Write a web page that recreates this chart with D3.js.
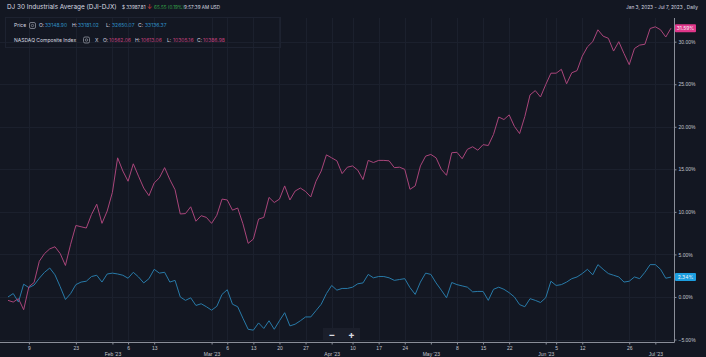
<!DOCTYPE html>
<html>
<head>
  <title>DJI vs NASDAQ</title>
  <script src="https://d3js.org/d3.v7.min.js"></script>
  <style>
    body { margin: 0; background: #131722; }
    svg { display: block; font-family: "Inter", "DejaVu Sans", sans-serif; }
  </style>
</head>
<body>
<div id="chart"></div>
<script>
// Trading calendar Jan 3 - Jul 7, 2023 (weekdays minus exchange holidays)
const firstDay = "2023-01-03";
const lastDay = "2023-07-07";
const holidays = ["2023-01-16", "2023-02-20", "2023-04-07", "2023-05-29", "2023-06-19", "2023-07-04"];

// % change since Jan 3, one value per trading day
const djiValues = [
  0.0, 0.4, -0.6, 1.5, 1.1, 1.4, 2.2, 2.9, 3.4, 2.6,
  1.2, -0.3, 0.4, 1.45, 1.75, 1.85, 2.4, 2.55, 1.75, 2.7,
  2.8, 2.7, 2.55, 2.2, 2.9, 2.35, 1.65, 2.15, 3.25, 2.8,
  2.9, 1.75, 1.95, 0.0, -0.4, -0.1, -1.0, -0.8, -1.15, -1.55,
  -1.1, 0.3, 0.85, -0.85, -1.15, -2.5, -3.8, -3.9, -3.05, -3.7,
  -2.8, -3.8, -2.8, -1.85, -3.4, -3.2, -2.8, -2.35, -2.35, -1.6,
  -0.85, 0.4, 1.35, 0.8, 1.0, 1.0, 1.15, 1.55, 1.65, 2.65,
  2.25, 2.4, 2.4, 2.25, 1.95, 2.05, 2.15, 1.1, 0.3, 1.75,
  2.8, 2.65, 1.65, 0.8, -0.1, 1.7, 1.45, 1.3, 1.15, 0.6,
  0.65, 0.65, -0.4, 0.9, 1.15, 0.9, 0.5, 0.0, -0.9, -1.15,
  -0.2, -0.4, -0.65, -0.1, 1.85, 1.35, 1.45, 1.75, 2.15, 2.35,
  2.75, 3.25, 2.6, 3.8, 3.25, 2.75, 2.55, 2.35, 1.75, 1.85,
  2.35, 2.15, 2.9, 3.8, 3.8, 3.25, 2.2, 2.34
];
const nasdaqValues = [
  -0.4, -0.6, -0.2, -1.5, 1.2, 1.7, 4.2, 5.1, 5.65, 5.9,
  5.1, 3.7, 6.2, 8.4, 8.25, 8.1, 9.7, 10.9, 8.65, 10.1,
  12.3, 16.35, 14.8, 13.6, 15.65, 14.2, 12.8, 11.9, 13.4, 14.0,
  15.2, 13.8, 12.6, 9.75, 9.8, 10.6, 8.9, 9.55, 9.35, 8.65,
  9.6, 11.5, 11.4, 10.2, 10.45, 8.6, 6.3, 6.8, 9.15, 9.35,
  11.7, 11.1, 11.5, 13.05, 11.4, 12.45, 12.8, 12.4, 11.75, 13.6,
  14.8, 16.7, 16.35, 16.0, 14.5, 15.25, 15.4, 14.9, 13.8, 16.05,
  15.8, 16.05, 16.05, 16.0, 15.2, 15.25, 15.0, 12.65, 13.05, 15.4,
  16.55, 16.75, 16.35, 15.0, 14.3, 16.95, 17.0, 16.25, 17.35, 17.65,
  17.25, 17.9, 17.8, 19.1, 21.15, 20.85, 21.4, 20.05, 19.2, 21.2,
  23.75, 24.25, 23.5, 24.95, 26.3, 26.3, 26.75, 25.05, 26.35, 26.6,
  28.3, 29.4, 30.0, 31.4, 30.65, 30.4, 28.9, 30.0, 28.6, 27.3,
  29.2, 29.6, 29.7, 31.55, 31.75, 31.4, 30.55, 31.59
];

const yTicks = [-5, 0, 5, 10, 15, 20, 25, 30];
const dayTicks = ["2023-01-09", "2023-01-23", "2023-02-06", "2023-02-13", "2023-03-06", "2023-03-13",
  "2023-03-20", "2023-03-27", "2023-04-10", "2023-04-17", "2023-04-24", "2023-05-08", "2023-05-15",
  "2023-05-22", "2023-06-05", "2023-06-12", "2023-06-26"];
const monthTicks = ["2023-02-01", "2023-03-01", "2023-04-03", "2023-05-01", "2023-06-01", "2023-07-03"];
const monthLabels = ["Feb '23", "Mar '23", "Apr '23", "May '23", "Jun '23", "Jul '23"];

const width = 706, height = 357;
const fmtDay = d3.utcFormat("%Y-%m-%d");

const dates = d3.utcDay.range(new Date(firstDay), d3.utcDay.offset(new Date(lastDay), 1))
  .filter(d => d.getUTCDay() !== 0 && d.getUTCDay() !== 6)
  .map(fmtDay)
  .filter(d => !holidays.includes(d));

const x = d3.scalePoint().domain(dates).range([8, 671]);
const y = d3.scaleLinear().domain([-5, 30]).range([339.5, 41.7]);

const svg = d3.select("#chart").append("svg")
  .attr("width", width).attr("height", height);

svg.append("rect").attr("width", width).attr("height", height).attr("fill", "#131722");

// grid
const grid = svg.append("g").attr("stroke", "#1b202d").attr("stroke-width", 1);
grid.selectAll(".vg").data(dayTicks.concat(monthTicks)).join("line")
  .attr("x1", d => Math.round(x(d)) + 0.5).attr("x2", d => Math.round(x(d)) + 0.5)
  .attr("y1", 18).attr("y2", 342);
grid.selectAll(".hg").data(yTicks).join("line")
  .attr("x1", 0).attr("x2", 674)
  .attr("y1", d => Math.round(y(d)) + 0.5).attr("y2", d => Math.round(y(d)) + 0.5);

// lines
const line = vals => d3.line().x((d, i) => x(dates[i])).y(d => y(d))(vals);
svg.append("path").attr("d", line(djiValues))
  .attr("fill", "none").attr("stroke", "#287aa8").attr("stroke-width", 1);
svg.append("path").attr("d", line(nasdaqValues))
  .attr("fill", "none").attr("stroke", "#a9457a").attr("stroke-width", 1);

// axes
const axisColor = "#8a8e99";
svg.append("line").attr("x1", 0).attr("x2", 674.5).attr("y1", 342.5).attr("y2", 342.5)
  .attr("stroke", axisColor).attr("stroke-width", 1);
svg.append("line").attr("x1", 674.5).attr("x2", 674.5).attr("y1", 18).attr("y2", 342.5)
  .attr("stroke", axisColor).attr("stroke-width", 1);

const yAxis = svg.append("g").attr("transform", "translate(674.5,0)")
  .call(d3.axisRight(y).tickValues(yTicks).tickSize(2).tickFormat(d => d3.format(".2f")(d) + "%"));
yAxis.select(".domain").remove();
yAxis.selectAll("line").attr("stroke", axisColor);
yAxis.selectAll("text").attr("fill", "#c3c6ce").attr("font-size", 5).attr("x", 4);

const xAxis = svg.append("g").attr("transform", "translate(0,342.5)")
  .call(d3.axisBottom(x).tickValues(dayTicks).tickSize(2).tickFormat(d => +d.slice(8)));
xAxis.select(".domain").remove();
xAxis.selectAll("line").attr("stroke", axisColor);
xAxis.selectAll("text").attr("fill", "#c3c6ce").attr("font-size", 5).attr("dy", 0).attr("y", 7);

const xMonth = svg.append("g").attr("transform", "translate(0,342.5)")
  .call(d3.axisBottom(x).tickValues(monthTicks).tickSize(2)
    .tickFormat(d => monthLabels[monthTicks.indexOf(d)]));
xMonth.select(".domain").remove();
xMonth.selectAll("line").attr("stroke", axisColor);
xMonth.selectAll("text").attr("fill", "#c3c6ce").attr("font-size", 5).attr("dy", 0).attr("y", 13);

// last value tags
function tag(val, txt, bg) {
  const yy = y(val);
  svg.append("rect").attr("x", 675).attr("y", yy - 4).attr("width", 21).attr("height", 8)
    .attr("rx", 1).attr("fill", bg);
  svg.append("text").attr("x", 685.5).attr("y", yy + 2).attr("text-anchor", "middle")
    .attr("font-size", 5).attr("fill", "#f2f2f5").text(txt);
}
tag(nasdaqValues[nasdaqValues.length - 1], "31.59%", "#e0378a");
tag(djiValues[djiValues.length - 1], "2.34%", "#1c9ee0");

// zoom buttons
const zb = svg.append("g");
zb.append("rect").attr("x", 323).attr("y", 328).attr("width", 37).attr("height", 12).attr("fill", "#1b1f2b");
zb.append("text").attr("x", 332).attr("y", 337.5).attr("text-anchor", "middle")
  .attr("font-size", 10).attr("font-weight", "bold").attr("fill", "#d9dbe0").text("−");
zb.append("text").attr("x", 351.5).attr("y", 337.5).attr("text-anchor", "middle")
  .attr("font-size", 10).attr("font-weight", "bold").attr("fill", "#d9dbe0").text("+");

// header
const head = svg.append("g");
head.append("text").attr("x", 7).attr("y", 9).attr("font-size", 6.4).attr("fill", "#d8dae0")
  .text("DJ 30 Industrials Average (DJI-DJX)");
const quote = head.append("text").attr("x", 122).attr("y", 8.7).attr("font-size", 4.6).attr("fill", "#d8dae0");
quote.append("tspan").text("$ 33987.81 ");
quote.append("tspan").attr("fill", "#e0443f").attr("font-size", 6.5).text("↓ ");
quote.append("tspan").attr("fill", "#37a84b").text("65.55 ");
quote.append("tspan").attr("fill", "#37a84b").text(" (0.19%)");
quote.append("tspan").text("9:57:39 AM USD");
head.append("text").attr("x", 698).attr("y", 8.5).attr("text-anchor", "end").attr("font-size", 4.8)
  .attr("fill", "#d8dae0").text("Jan 3, 2023 - Jul 7, 2023 , Daily");

// legend
svg.append("rect").attr("x", 5.5).attr("y", 17.5).attr("width", 275).attr("height", 30)
  .attr("fill", "none").attr("stroke", "#1d2230");

function gear(cx, cy) {
  svg.append("rect").attr("x", cx - 3).attr("y", cy - 3).attr("width", 6).attr("height", 6)
    .attr("rx", 1.5).attr("fill", "none").attr("stroke", "#8e929c").attr("stroke-width", 0.8);
  svg.append("circle").attr("cx", cx).attr("cy", cy).attr("r", 1.2)
    .attr("fill", "none").attr("stroke", "#8e929c").attr("stroke-width", 0.7);
}

function legendRow(yy, parts) {
  const t = svg.append("text").attr("y", yy).attr("font-size", 5).attr("fill", "#d8dae0");
  parts.forEach(p => {
    t.append("tspan").attr("x", p[0]).attr("fill", p[2] || "#d8dae0").text(p[1]);
  });
}
legendRow(27, [[14, "Price"], [39, "O:"], [45, "33148.90", "#2f8fc4"], [72, "H:"], [78, "33181.02", "#2f8fc4"],
  [106, "L:"], [112, "32650.07", "#2f8fc4"], [138, "C:"], [145, "33136.37", "#2f8fc4"]]);
gear(32.5, 25.5);
legendRow(41.5, [[14, "NASDAQ Composite Index"], [95, "X"], [103, "O:"], [109, "10562.06", "#c0407c"],
  [135, "H:"], [141, "10613.06", "#c0407c"], [167, "L:"], [173, "10305.16", "#c0407c"],
  [197, "C:"], [203, "10386.98", "#c0407c"]]);
gear(86.5, 40);
</script>
</body>
</html>
